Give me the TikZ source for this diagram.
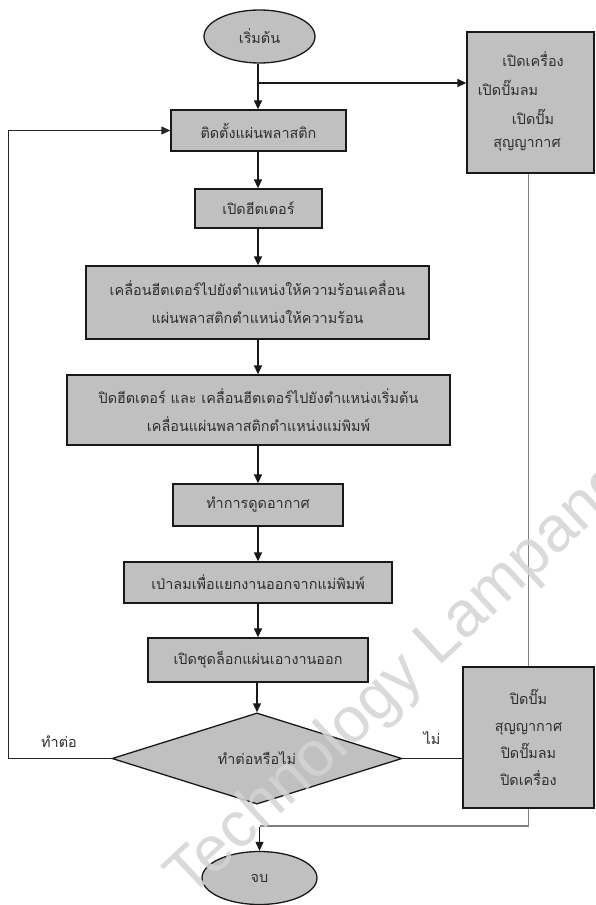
\documentclass[tikz,border=0pt]{standalone}
\usepackage{fontspec}
\newfontfamily\thai[Script=Thai]{Loma}
\setmainfont{Liberation Sans}
\usetikzlibrary{shapes.geometric,arrows.meta}
\definecolor{boxfill}{HTML}{C0C0C0}
\definecolor{txt}{HTML}{2E2E2E}
\definecolor{wm}{HTML}{D4D4D4}
\tikzset{
  every node/.style={font=\thai\fontsize{14.4}{28}\selectfont, text=txt},
  procbox/.style={draw=black!90, line width=1.3pt, fill=boxfill, rectangle, inner sep=0pt, align=center},
  termnode/.style={draw=black!90, line width=1.3pt, fill=boxfill, ellipse, inner sep=0pt},
  decnode/.style={draw=black!90, line width=1.3pt, fill=boxfill, diamond, inner sep=0pt},
  flow/.style={line width=1.3pt, draw=black!90, -{Triangle[length=9pt,width=8pt]}},
  thinflow/.style={line width=1pt, draw=black!85},
  greyline/.style={line width=1.1pt, draw=black!50},
  plain/.style={inner sep=0pt}
}
\begin{document}
\begin{tikzpicture}[x=1pt,y=-1pt]
\useasboundingbox (0,0) rectangle (595,905);
\clip (0,0) rectangle (595,905);
\fill[white] (0,0) rectangle (595,905);

% main column
\node[termnode, minimum width=111pt, minimum height=53pt] (start) at (259.5,36.5) {เริ่มต้น};
\node[procbox, minimum width=175pt, minimum height=41pt] (b1) at (258.5,130.5) {ติดตั้งแผ่นพลาสติก};
\node[procbox, minimum width=127pt, minimum height=39pt] (b2) at (258.5,208.5) {เปิดฮีตเตอร์};
\node[procbox, minimum width=343pt, minimum height=73pt] (b3) at (257.5,302.5) {เคลื่อนฮีตเตอร์ไปยังตำแหน่งให้ความร้อนเคลื่อน\\แผ่นพลาสติกตำแหน่งให้ความร้อน};
\node[procbox, minimum width=383pt, minimum height=70pt] (b4) at (258.5,410) {ปิดฮีตเตอร์ และ เคลื่อนฮีตเตอร์ไปยังตำแหน่งเริ่มต้น\\เคลื่อนแผ่นพลาสติกตำแหน่งแม่พิมพ์};
\node[procbox, minimum width=170pt, minimum height=42pt] (b5) at (258,505) {ทำการดูดอากาศ};
\node[procbox, minimum width=268pt, minimum height=41pt] (b6) at (258,582.5) {เป่าลมเพื่อแยกงานออกจากแม่พิมพ์};
\node[procbox, minimum width=220pt, minimum height=44pt] (b7) at (258,660) {เปิดชุดล็อกแผ่นเอางานออก};
\node[decnode, minimum width=290pt, minimum height=81pt] (dec) at (257,758.5) {ทำต่อหรือไม่};
\node[termnode, minimum width=115pt, minimum height=53pt] (stop) at (259.5,878) {จบ};

% right column
\node[procbox, minimum width=127pt, minimum height=141pt] (r1) at (530.5,102.5) {};
\node[plain] (r1a) at (533,59) {เปิดเครื่อง};
\node[plain] (r1b) at (508,88) {เปิดปั๊มลม};
\node[plain] (r1c) at (533,117) {เปิดปั๊ม};
\node[plain] (r1d) at (527,145) {สุญญากาศ};
\node[procbox, minimum width=131pt, minimum height=141pt, font=\thai\fontsize{14.4}{27}\selectfont] (r2) at (528.5,737.5) {ปิดปั๊ม\\สุญญากาศ\\ปิดปั๊มลม\\ปิดเครื่อง};

% labels
\node[plain] (lyes) at (59,742) {ทำต่อ};
\node[plain] (lno) at (432,738) {ไม่};

% connectors
\coordinate (j1) at (258,83);
\coordinate (loopx) at (8,0);
\coordinate (j2) at (528.5,826);
\draw[flow] (start.south -| j1) -- (b1.north -| j1);
\draw[flow] (j1) -- (j1 -| r1.west);
\draw[flow] (b1.south -| j1) -- (b2.north -| j1);
\draw[flow] (b2.south -| j1) -- (b3.north -| j1);
\draw[flow] (b3.south -| j1) -- (b4.north -| j1);
\draw[flow] (b4.south -| j1) -- (b5.north -| j1);
\draw[flow] (b5.south -| j1) -- (b6.north -| j1);
\draw[flow] (b6.south -| j1) -- (b7.north -| j1);
\draw[flow] (b7.south -| dec) -- (dec.north);
\draw[thinflow, -{Triangle[length=9pt,width=8pt]}] (dec.west) -- (dec.west -| loopx) |- (b1.west);
\draw[thinflow] (dec.east) -- (dec.east -| r2.west);
\draw[greyline] (r1.south -| r2.north) -- (r2.north);
\draw[greyline] (r2.south) -- (j2) -- (j2 -| stop.north);
\draw[flow, line width=1.1pt] ([yshift=-0.5pt]j2 -| stop.north) -- (stop.north);

% watermark
\node[font=\fontsize{64}{64}\selectfont, text=wm, opacity=0.85, rotate=43, anchor=base west, inner sep=0pt] (wmark) at (189,900) {Technology Lampang};
\end{tikzpicture}
\end{document}
